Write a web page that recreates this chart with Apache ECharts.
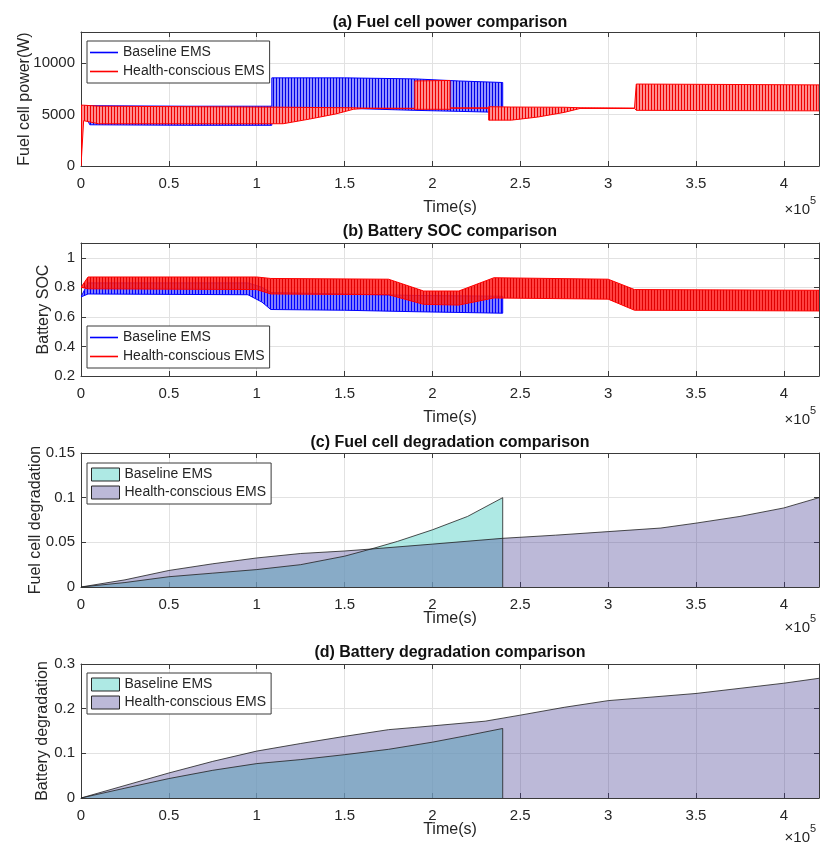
<!DOCTYPE html>
<html>
<head>
<meta charset="utf-8"/>
<script src="https://cdn.jsdelivr.net/npm/echarts@6.0.0/dist/echarts.min.js"></script>
<style>html,body{margin:0;padding:0;background:#fff;}</style>
</head>
<body>
<div id="main" style="width:820px;height:844px;"></div>
<script type="text/javascript">
    var chart = echarts.init(document.getElementById('main'));

    // time axis in seconds, labels shown in units of 1e5
    var timeMax = 420000;
    var timeStep = 50000;

    // (a) fuel cell power bands: [time, low, high] of the switching signal
    var powerBaseline = [
        [0, 5800, 5800], [5000, 4000, 5850], [60000, 3950, 5800], [108600, 3950, 5800],
        [108600, 5680, 8550], [150000, 5600, 8550], [190000, 5400, 8450],
        [215000, 5300, 8250], [240000, 5200, 8100]
    ];
    var powerHealth = [
        [0, 0, 5900], [1500, 4400, 5900], [10000, 4100, 5800], [115000, 4100, 5700],
        [130000, 4550, 5680], [145000, 5050, 5660], [155000, 5500, 5650], [160000, 5580, 5620],
        [190000, 5560, 5600], [190000, 5500, 8250], [210000, 5500, 8300], [210000, 5600, 5640],
        [232000, 5600, 5640], [232000, 4450, 5750], [245000, 4450, 5720], [260000, 4750, 5710],
        [275000, 5200, 5700], [284000, 5580, 5650], [315000, 5580, 5620], [316000, 5400, 7950],
        [420000, 5350, 7870]
    ];

    // (b) battery SOC bands: [time, low, high]
    var socBaseline = [
        [0, 0.735, 0.735], [4000, 0.755, 0.83], [95000, 0.75, 0.83], [103000, 0.70, 0.80],
        [108000, 0.65, 0.765], [150000, 0.645, 0.755], [190000, 0.635, 0.745], [240000, 0.625, 0.74]
    ];
    var socHealth = [
        [0, 0.80, 0.80], [4000, 0.79, 0.87], [100000, 0.785, 0.87], [108000, 0.755, 0.86],
        [175000, 0.75, 0.855], [195000, 0.685, 0.775], [215000, 0.68, 0.775], [235000, 0.728, 0.865],
        [300000, 0.72, 0.855], [315000, 0.645, 0.785], [420000, 0.64, 0.78]
    ];

    // (c) fuel cell degradation: [time, value]
    var fcDegBaseline = [
        [0, 0], [25000, 0.005], [50000, 0.0115], [75000, 0.0155], [100000, 0.0195],
        [125000, 0.025], [150000, 0.0345], [165000, 0.0425], [180000, 0.051], [200000, 0.064],
        [220000, 0.079], [240000, 0.1], [240000, 0]
    ];
    var fcDegHealth = [
        [0, 0], [25000, 0.008], [50000, 0.0185], [75000, 0.026], [100000, 0.0325],
        [125000, 0.0375], [150000, 0.0403], [165000, 0.0425], [200000, 0.048], [240000, 0.0545],
        [270000, 0.058], [300000, 0.062], [330000, 0.066], [350000, 0.0715], [375000, 0.079],
        [400000, 0.0885], [420000, 0.1]
    ];

    // (d) battery degradation: [time, value]
    var batDegBaseline = [
        [0, 0], [25000, 0.022], [50000, 0.0435], [75000, 0.062], [100000, 0.077],
        [125000, 0.086], [150000, 0.097], [175000, 0.109], [200000, 0.125], [220000, 0.14],
        [240000, 0.1557], [240000, 0]
    ];
    var batDegHealth = [
        [0, 0], [25000, 0.028], [50000, 0.056], [75000, 0.082], [100000, 0.105],
        [125000, 0.122], [150000, 0.138], [175000, 0.153], [190000, 0.158], [200000, 0.1615],
        [230000, 0.172], [250000, 0.1855], [275000, 0.203], [300000, 0.218], [350000, 0.234],
        [400000, 0.257], [420000, 0.268]
    ];

    var titles = [
        '(a) Fuel cell power comparison',
        '(b) Battery SOC comparison',
        '(c) Fuel cell degradation comparison',
        '(d) Battery degradation comparison'
    ];
    var yNames = ['Fuel cell power(W)', 'Battery SOC', 'Fuel cell degradation', 'Battery degradation'];
    var yRanges = [[0, 13000, 5000], [0.2, 1.1, 0.2], [0, 0.15, 0.05], [0, 0.3, 0.1]];

    var FONT = 'Liberation Sans, Arial, Helvetica, sans-serif';
    var INK = '#262626';
    var BOX = '#3a3a3a';

    // layout of the four panels
    var layout = [
        {top: 32, height: 134, yGap: 48.5, xGap: 34, showMax: false, titleY: 23, expY: 210, legendTop: 41},
        {top: 243, height: 133, yGap: 29, xGap: 34, showMax: false, titleY: 232, expY: 420, legendTop: 326},
        {top: 453, height: 134, yGap: 37.5, xGap: 24, showMax: true, titleY: 442.5, expY: 628, legendTop: 463},
        {top: 664, height: 134, yGap: 30, xGap: 24, showMax: true, titleY: 653, expY: 838, legendTop: 673}
    ];

    // vertical stripe pattern imitating the dense switching lines
    function stripes(line, gap) {
        var c = document.createElement('canvas');
        c.width = 3; c.height = 4;
        var ctx = c.getContext('2d');
        ctx.fillStyle = gap; ctx.fillRect(0, 0, 3, 4);
        ctx.fillStyle = line; ctx.fillRect(0, 0, 1, 4);
        return {image: c, repeat: 'repeat'};
    }

    function bandSeries(name, band, panel, color, fill) {
        return {
            type: 'custom',
            name: name,
            xAxisIndex: panel * 2,
            yAxisIndex: panel * 2,
            data: band,
            clip: true,
            silent: true,
            itemStyle: {color: color},
            renderItem: function (params, api) {
                if (params.dataIndex !== 0) return null;
                var pts = [];
                band.forEach(function (d) { pts.push(api.coord([d[0], d[2]])); });
                band.slice().reverse().forEach(function (d) { pts.push(api.coord([d[0], d[1]])); });
                return {
                    type: 'polygon',
                    shape: {points: pts},
                    style: {fill: fill, stroke: color, lineWidth: 1}
                };
            }
        };
    }

    function areaSeries(name, data, panel, fill) {
        return {
            type: 'line',
            name: name,
            xAxisIndex: panel * 2,
            yAxisIndex: panel * 2,
            data: data,
            symbol: 'none',
            silent: true,
            lineStyle: {color: '#1f1f1f', width: 0.8},
            itemStyle: {color: fill},
            areaStyle: {color: fill, opacity: 1}
        };
    }

    var grid = [], xAxis = [], yAxis = [], legend = [], graphic = [];
    var lineIcon = 'path://M0,0H28V1.6H0Z';
    var cyanSolid = 'rgb(174,233,228)';
    var purpleSolid = 'rgb(188,185,216)';

    layout.forEach(function (p, i) {
        grid.push({left: 81, width: 738, top: p.top, height: p.height, outerBoundsMode: 'none'});
        xAxis.push({
            type: 'value', gridIndex: i, min: 0, max: timeMax, interval: timeStep,
            axisLine: {show: true, onZero: false, lineStyle: {color: BOX, width: 1}},
            axisTick: {show: true, inside: true, length: 5, lineStyle: {color: BOX}},
            axisLabel: {
                fontSize: 15, color: INK, fontFamily: FONT, margin: 10, showMaxLabel: false,
                formatter: function (v) { return String(Math.round(v / 1e4) / 10); }
            },
            splitLine: {show: true, lineStyle: {color: '#e2e2e2', width: 1}},
            name: 'Time(s)', nameLocation: 'middle', nameGap: p.xGap, nameMoveOverlap: false,
            nameTextStyle: {fontSize: 16, color: INK, fontFamily: FONT}
        });
        xAxis.push({
            type: 'value', gridIndex: i, position: 'top', min: 0, max: timeMax, interval: timeStep,
            axisLine: {show: true, onZero: false, lineStyle: {color: BOX, width: 1}},
            axisTick: {show: true, inside: true, length: 5, lineStyle: {color: BOX}},
            axisLabel: {show: false}, splitLine: {show: false}
        });
        var r = yRanges[i];
        yAxis.push({
            type: 'value', gridIndex: i, min: r[0], max: r[1], interval: r[2],
            axisLine: {show: true, onZero: false, lineStyle: {color: BOX, width: 1}},
            axisTick: {show: true, inside: true, length: 5, lineStyle: {color: BOX}},
            axisLabel: {
                fontSize: 15, color: INK, fontFamily: FONT, margin: 6, showMaxLabel: p.showMax,
                formatter: function (v) { return String(+v.toFixed(4)); }
            },
            splitLine: {show: true, lineStyle: {color: '#e2e2e2', width: 1}},
            name: yNames[i], nameLocation: 'middle', nameGap: p.yGap, nameMoveOverlap: false,
            nameTextStyle: {fontSize: 16, color: INK, fontFamily: FONT}
        });
        yAxis.push({
            type: 'value', gridIndex: i, position: 'right', min: r[0], max: r[1], interval: r[2],
            axisLine: {show: true, onZero: false, lineStyle: {color: BOX, width: 1}},
            axisTick: {show: true, inside: true, length: 5, lineStyle: {color: BOX}},
            axisLabel: {show: false}, splitLine: {show: false}
        });

        var isArea = i >= 2;
        legend.push({
            orient: 'vertical', left: 87, top: p.legendTop,
            itemWidth: 28, itemHeight: isArea ? 13 : 14, itemGap: isArea ? 4 : 5,
            padding: isArea ? [4.5, 5, 4.5, 4] : [4.5, 5, 4.5, 3],
            backgroundColor: '#fff', borderColor: BOX, borderWidth: 1, borderRadius: 0,
            selectedMode: false,
            textStyle: {fontSize: 14, color: INK, fontFamily: FONT},
            data: isArea ? [
                {name: 'Baseline EMS', icon: 'rect', itemStyle: {color: cyanSolid, borderColor: '#262626', borderWidth: 1}},
                {name: 'Health-conscious EMS', icon: 'rect', itemStyle: {color: purpleSolid, borderColor: '#262626', borderWidth: 1}}
            ] : [
                {name: 'Baseline EMS', icon: lineIcon, itemStyle: {color: '#0000ff', borderWidth: 0}},
                {name: 'Health-conscious EMS', icon: lineIcon, itemStyle: {color: '#ff0000', borderWidth: 0}}
            ]
        });

        graphic.push({
            type: 'text', x: 450, y: p.titleY,
            style: {text: titles[i], font: 'bold 16px ' + FONT, fill: '#111',
                textAlign: 'center', textVerticalAlign: 'middle', align: 'center', verticalAlign: 'middle'}
        });
        graphic.push({
            type: 'text', x: 810, y: p.expY,
            style: {text: '\u00d710', font: '15px ' + FONT, fill: INK,
                textAlign: 'right', textVerticalAlign: 'middle', align: 'right', verticalAlign: 'middle'}
        });
        graphic.push({
            type: 'text', x: 810, y: p.expY - 9,
            style: {text: '5', font: '11px ' + FONT, fill: INK,
                textAlign: 'left', textVerticalAlign: 'middle', align: 'left', verticalAlign: 'middle'}
        });
    });

    var series = [
        bandSeries('Baseline EMS', powerBaseline, 0, '#0000ff', stripes('#0000e6', 'rgba(40,40,255,0.5)')),
        bandSeries('Health-conscious EMS', powerHealth, 0, '#ff0000', stripes('#ee0000', '#ff8c8c')),
        bandSeries('Baseline EMS', socBaseline, 1, '#0000ff', stripes('#0000ff', 'rgba(40,40,255,0.6)')),
        bandSeries('Health-conscious EMS', socHealth, 1, '#ff0000', stripes('#e00000', 'rgba(255,30,30,0.85)')),
        areaSeries('Baseline EMS', fcDegBaseline, 2, 'rgba(139,224,216,0.7)'),
        areaSeries('Health-conscious EMS', fcDegHealth, 2, 'rgba(69,60,147,0.36)'),
        areaSeries('Baseline EMS', batDegBaseline, 3, 'rgba(139,224,216,0.7)'),
        areaSeries('Health-conscious EMS', batDegHealth, 3, 'rgba(69,60,147,0.36)')
    ];

    var option = {
        animation: false,
        backgroundColor: '#fff',
        textStyle: {fontFamily: FONT},
        grid: grid,
        xAxis: xAxis,
        yAxis: yAxis,
        legend: legend,
        graphic: graphic,
        series: series
    };

    chart.setOption(option);
</script>
</body>
</html>
